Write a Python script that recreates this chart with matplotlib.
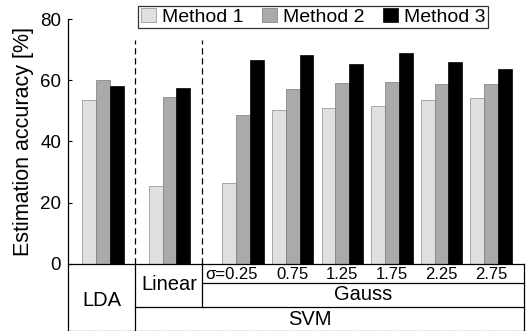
import numpy as np
import matplotlib
matplotlib.use("Agg")
import matplotlib.pyplot as plt

plt.rcParams['font.family'] = ['Liberation Sans', 'DejaVu Sans']

# data
groups = ["LDA", "Linear", "0.25", "0.75", "1.25", "1.75", "2.25", "2.75"]
method1 = [53.4, 25.4, 26.4, 50.2, 50.9, 51.6, 53.4, 54.2]
method2 = [60.0, 54.5, 48.8, 57.3, 59.2, 59.5, 58.7, 58.7]
method3 = [58.1, 57.4, 66.5, 68.4, 65.4, 69.0, 66.0, 63.8]
methods = ["Method 1", "Method 2", "Method 3"]
sigma_labels = ["\u03c3=0.25", "0.75", "1.25", "1.75", "2.25", "2.75"]
yticks = [0, 20, 40, 60, 80]

# layout (x in pixel-like units from the y axis)
x_right = 456
cell_edges = [0, 67, 134]
gauss_first, gauss_step = 175, 49.6
group_x = np.r_[35, 101.5, gauss_first + gauss_step * np.arange(6)]
bar_w = 13.8
colors = ["#e0e0e0", "#aaaaaa", "#000000"]
edges = ["#8a8a8a", "#7a7a7a", "#000000"]
y_bottom = -21.9
row1, row2 = -6.3, -13.9

fig = plt.figure(figsize=(5.27, 3.31), dpi=100)
ax = fig.add_axes([68 / 527, 0, (524 - 68) / 527, (331 - 19) / 331])

for i, vals in enumerate([method1, method2, method3]):
    ax.bar(group_x + (i - 1) * bar_w, vals, bar_w, color=colors[i],
           edgecolor=edges[i], linewidth=0.5, label=methods[i], zorder=2)

ax.set_xlim(0, x_right)
ax.set_ylim(y_bottom, 80)
ax.set_yticks(yticks)
ax.tick_params(axis='y', direction='in', length=3, width=0.8, labelsize=13.5, pad=5)
ax.tick_params(axis='x', bottom=False, labelbottom=False)
ax.set_ylabel("Estimation accuracy [%]", fontsize=15.5)
ax.yaxis.set_label_coords(-0.074, (40 - y_bottom) / (80 - y_bottom))

for s in ['top', 'bottom']:
    ax.spines[s].set_visible(False)
ax.spines['left'].set_linewidth(0.9)
ax.spines['right'].set_linewidth(0.9)
ax.spines['right'].set_bounds(y_bottom, 0)

# dashed separators above the table
for xe in cell_edges[1:]:
    ax.plot([xe, xe], [0, 73.3], ls=(0, (5, 3)), color='k', lw=0.9, zorder=1)

# table below the bars
lk = dict(color='k', lw=0.9, clip_on=False, zorder=3)
ax.plot([0, x_right], [0, 0], **lk)
ax.plot([cell_edges[1]] * 2, [0, y_bottom], **lk)
ax.plot([cell_edges[2]] * 2, [0, row2], **lk)
ax.plot([cell_edges[2], x_right], [row1, row1], **lk)
ax.plot([cell_edges[1], x_right], [row2, row2], **lk)
ax.plot([0, x_right], [y_bottom + 0.2, y_bottom + 0.2], color='#bbbbbb', lw=0.6, ls=':', clip_on=False)

ax.text(33.5, -11.8, "LDA", ha='center', va='center', fontsize=14.5)
ax.text(101, -6.8, "Linear", ha='center', va='center', fontsize=14.5)
for j, lab in enumerate(sigma_labels):
    xc = group_x[2 + j]
    if j == 0:
        ax.text(cell_edges[2] + 3, -3.6, lab, ha='left', va='center', fontsize=12)
    else:
        ax.text(xc, -3.6, lab, ha='center', va='center', fontsize=12)
ax.text((cell_edges[2] + x_right) / 2, -10.1, "Gauss", ha='center', va='center', fontsize=14.5)
ax.text(242, -18.3, "SVM", ha='center', va='center', fontsize=14.5)

leg = fig.legend(loc='upper right', bbox_to_anchor=(487.5 / 527, (331 - 6) / 331),
                 ncol=3, fontsize=14, frameon=True, fancybox=False,
                 handlelength=0.78, handleheight=0.7, handletextpad=0.3,
                 columnspacing=0.95, borderpad=0.12, borderaxespad=0.0)
leg.get_frame().set_edgecolor('k')
leg.get_frame().set_linewidth(0.9)

fig.savefig("out.png", dpi=100)
